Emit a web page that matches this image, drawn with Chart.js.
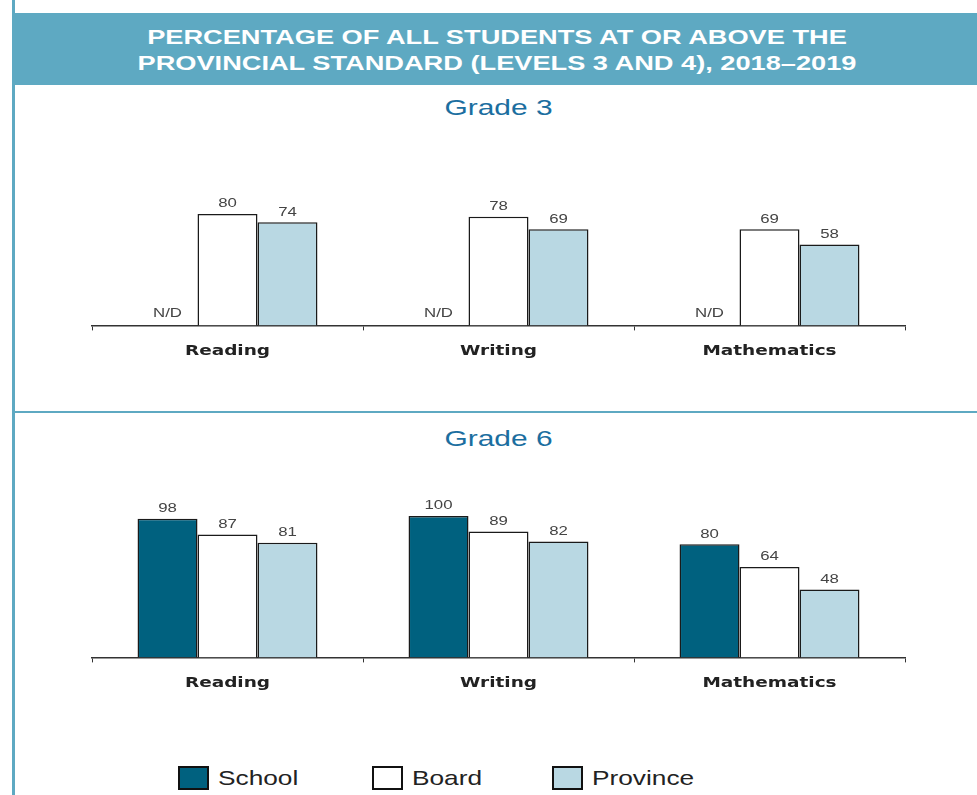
<!DOCTYPE html>
<html>
<head>
<meta charset="utf-8">
<script src="https://cdn.jsdelivr.net/npm/chart.js@4.4.1/dist/chart.umd.min.js"></script>
<style>
  body { margin: 0; width: 977px; height: 795px; background: #fff; position: relative; overflow: hidden; font-family: "Liberation Sans", Arial, sans-serif; }
  #leftBar { position: absolute; left: 12px; top: 0; width: 3px; height: 795px; background: #5ea9c2; }
  #header { position: absolute; left: 12px; top: 13px; width: 965px; height: 72px; background: #5ea9c2; color: #fff; font-weight: bold; font-size: 20px; line-height: 26px; text-align: center; }
  #header div { transform: scaleX(1.36); margin-left: 5px; }
  #header .l1 { margin-top: 11px; }
  #sep { position: absolute; left: 12px; top: 411px; width: 965px; height: 2px; background: #5ea9c2; }
  .grade { position: absolute; left: 20px; width: 957px; text-align: center; color: #1b6ea0; font-size: 22px; transform: scaleX(1.36); }
  canvas { position: absolute; left: 0; }
  #legend { position: absolute; left: 0; top: 766px; width: 977px; height: 24px; }
  .item { position: absolute; top: 0; height: 24px; }
  .box { position: absolute; left: 0; top: 0; width: 27px; height: 20px; border: 2px solid #111; }
  .txt { position: absolute; left: 40px; top: 0; font-size: 21px; line-height: 24px; color: #222; white-space: nowrap; transform: scaleX(1.25); transform-origin: left center; }
</style>
</head>
<body>
<div id="leftBar"></div>
<div id="header"><div class="l1">PERCENTAGE OF ALL STUDENTS AT OR ABOVE THE</div><div>PROVINCIAL STANDARD (LEVELS 3 AND 4), 2018–2019</div></div>
<div class="grade" style="top:95px">Grade 3</div>
<div id="sep"></div>
<div class="grade" style="top:426px">Grade 6</div>
<canvas id="g3" style="top:156px" width="977" height="216"></canvas>
<canvas id="g6" style="top:486px" width="977" height="218"></canvas>
<div id="legend"></div>
<script>
const subjects = ['Reading', 'Writing', 'Mathematics'];
const seriesNames = ['School', 'Board', 'Province'];
const seriesColors = ['#00617f', '#ffffff', '#b9d8e3'];

// Grade 3 - school results not disclosed (N/D)
const grade3School = [null, null, null];
const grade3Board = [80, 78, 69];
const grade3Province = [74, 69, 58];

// Grade 6
const grade6School = [98, 100, 80];
const grade6Board = [87, 89, 64];
const grade6Province = [81, 82, 48];

const legendXs = [178, 372, 552];

// the source picture is stretched sideways, so text is drawn widened
function wideText(c, text, x, y, sx) {
  c.save();
  c.translate(x, y);
  c.scale(sx, 1);
  c.fillText(text, 0, 0);
  c.restore();
}

const valueLabels = {
  id: 'valueLabels',
  afterDatasetsDraw(chart) {
    const c = chart.ctx;
    const xScale = chart.scales.x;
    const base = chart.scales.y.getPixelForValue(0);
    c.save();
    c.font = '12px "Liberation Sans", Arial, sans-serif';
    c.fillStyle = '#444';
    c.textAlign = 'center';
    c.textBaseline = 'bottom';
    chart.data.datasets.forEach((ds, i) => {
      const meta = chart.getDatasetMeta(i);
      meta.data.forEach((bar, j) => {
        const v = ds.data[j];
        if (v === null) {
          wideText(c, 'N/D', bar.x, base - 6, 1.4);
        } else {
          wideText(c, String(v), bar.x, bar.y - 4, 1.4);
        }
      });
    });
    // category labels
    c.font = 'bold 14px "DejaVu Sans", Verdana, sans-serif';
    c.fillStyle = '#222';
    c.textBaseline = 'middle';
    chart.data.labels.forEach((lab, j) => {
      wideText(c, lab, xScale.getPixelForValue(j), base + 26, 1.32);
    });
    c.restore();
  }
};

function makeChart(id, school, board, province) {
  const values = [school, board, province];
  return new Chart(document.getElementById(id), {
    type: 'bar',
    data: {
      labels: subjects,
      datasets: seriesNames.map((name, i) => ({
        label: name,
        data: values[i],
        backgroundColor: seriesColors[i],
        borderColor: '#1a1a1a',
        borderWidth: 1.5,
        borderSkipped: 'bottom',
        barPercentage: 1,
        categoryPercentage: 0.664
      }))
    },
    options: {
      responsive: false,
      animation: false,
      layout: { padding: { left: 92, right: 72, top: 30, bottom: 0 } },
      plugins: { legend: { display: false }, tooltip: { enabled: false } },
      scales: {
        x: {
          grid: { display: true, drawOnChartArea: false, drawTicks: true, tickLength: 5, color: '#333', offset: true },
          border: { display: true, color: '#333', width: 1.5 },
          ticks: { padding: 13, color: 'rgba(0,0,0,0)', font: { family: '"DejaVu Sans", Verdana, sans-serif', size: 13, weight: 'bold' } }
        },
        y: { display: false, min: 0, max: 100 }
      }
    },
    plugins: [valueLabels]
  });
}

makeChart('g3', grade3School, grade3Board, grade3Province);
makeChart('g6', grade6School, grade6Board, grade6Province);

const legend = document.getElementById('legend');
seriesNames.forEach((name, i) => {
  const item = document.createElement('div');
  item.className = 'item';
  item.style.left = legendXs[i] + 'px';
  item.innerHTML = '<div class="box" style="background:' + seriesColors[i] + '"></div><div class="txt">' + name + '</div>';
  legend.appendChild(item);
});
</script>
</body>
</html>
